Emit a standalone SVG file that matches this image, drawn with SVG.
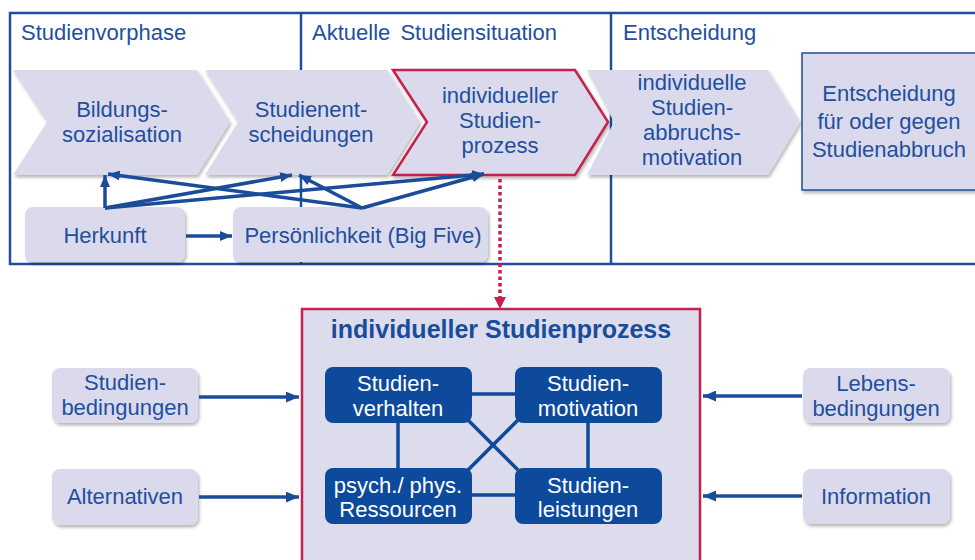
<svg xmlns="http://www.w3.org/2000/svg" width="975" height="560" viewBox="0 0 975 560">
  <defs>
    <style>
      text { font-family: "Liberation Sans", Arial, sans-serif; font-size: 22px; fill: #1f4f9f; }
      .mid { text-anchor: middle; }
      .light { fill: #dadaec; }
      .dark { fill: #0d4a9c; }
      .white { fill: #ffffff; }
      .frame { fill: none; stroke: #1f4f9c; stroke-width: 2.5; }
      .link { stroke: #1b4c9a; stroke-width: 3.5; fill: none; }
      .bond { stroke: #0d4a9c; stroke-width: 3.5; fill: none; }
      .feed { stroke: #1b4c9a; stroke-width: 3.5; fill: none; }
      .title { font-weight: bold; font-size: 25px; fill: #1a4c9c; }
    </style>
    <filter id="shadow" x="-10%" y="-10%" width="125%" height="130%">
      <feDropShadow dx="1.5" dy="2.5" stdDeviation="1.8" flood-color="#000" flood-opacity="0.28"/>
    </filter>
    <marker id="head" viewBox="0 0 12 10" refX="12" refY="5" markerWidth="12" markerHeight="10" markerUnits="userSpaceOnUse" orient="auto">
      <path d="M0,0 L12,5 L0,10 z" fill="#1b4c9a"/>
    </marker>
    <marker id="headBig" viewBox="0 0 12 10" refX="12" refY="5" markerWidth="13" markerHeight="11" markerUnits="userSpaceOnUse" orient="auto">
      <path d="M0,0 L12,5 L0,10 z" fill="#1b4c9a"/>
    </marker>
  </defs>

  <rect width="975" height="560" fill="#ffffff"/>

  <!-- phase frame and dividers -->
  <g id="phases">
    <rect class="frame" x="10" y="13" width="985" height="251"/>
    <line class="frame" x1="301" y1="13" x2="301" y2="264"/>
    <line class="frame" x1="611" y1="13" x2="611" y2="264"/>
    <text x="21" y="40">Studienvorphase</text>
    <text x="312" y="40" word-spacing="4">Aktuelle Studiensituation</text>
    <text x="623" y="40">Entscheidung</text>
  </g>

  <!-- process chevrons -->
  <g id="bildungssozialisation">
    <polygon class="light" filter="url(#shadow)" points="13,70 197,70 230,122 197,175 13,175 47,122"/>
    <text class="mid" x="122" y="117">Bildungs-</text>
    <text class="mid" x="122" y="142">sozialisation</text>
  </g>
  <g id="studienentscheidungen">
    <polygon class="light" filter="url(#shadow)" points="205,70 387,70 420,122 387,175 205,175 238,122"/>
    <text class="mid" x="311" y="117">Studienent-</text>
    <text class="mid" x="311" y="142">scheidungen</text>
  </g>
  <g id="studienprozess">
    <polygon class="light" filter="url(#shadow)" points="393,70 575,70 608,122 575,175 393,175 427,122" stroke="#c3224f" stroke-width="2.5"/>
    <text class="mid" x="500" y="103">individueller</text>
    <text class="mid" x="500" y="128">Studien-</text>
    <text class="mid" x="500" y="153">prozess</text>
  </g>
  <g id="abbruchsmotivation">
    <polygon class="light" filter="url(#shadow)" points="587,70 768,70 800,122 768,175 587,175 614,122"/>
    <text class="mid" x="692" y="90">individuelle</text>
    <text class="mid" x="692" y="115">Studien-</text>
    <text class="mid" x="692" y="140">abbruchs-</text>
    <text class="mid" x="692" y="165">motivation</text>
  </g>
  <g id="entscheidung">
    <rect class="light" filter="url(#shadow)" x="802" y="53" width="190" height="137" stroke="#1f4f9c" stroke-width="1.5"/>
    <text class="mid" x="889" y="101">Entscheidung</text>
    <text class="mid" x="889" y="129">für oder gegen</text>
    <text class="mid" x="889" y="157">Studienabbruch</text>
  </g>

  <!-- background factors -->
  <g id="herkunft">
    <rect class="light" filter="url(#shadow)" x="25" y="207" width="160" height="55" rx="8"/>
    <text class="mid" x="105" y="243">Herkunft</text>
  </g>
  <g id="persoenlichkeit">
    <rect class="light" filter="url(#shadow)" x="233" y="207" width="255" height="55" rx="8"/>
    <text class="mid" x="363" y="243">Persönlichkeit (Big Five)</text>
  </g>

  <!-- detail box -->
  <g id="prozess-detail">
    <rect x="302" y="309" width="398" height="270" fill="#dcdcec" stroke="#c3224f" stroke-width="2.5"/>
    <text class="mid title" x="501" y="338">individueller Studienprozess</text>
  </g>

  <g id="studienverhalten">
    <rect class="dark" x="325" y="367" width="147" height="56" rx="8"/>
    <text class="mid white" x="398" y="391">Studien-</text>
    <text class="mid white" x="398" y="416">verhalten</text>
  </g>
  <g id="studienmotivation">
    <rect class="dark" x="515" y="367" width="147" height="56" rx="8"/>
    <text class="mid white" x="588" y="391">Studien-</text>
    <text class="mid white" x="588" y="416">motivation</text>
  </g>
  <g id="ressourcen">
    <rect class="dark" x="325" y="468" width="147" height="56" rx="8"/>
    <text class="mid white" x="398" y="493">psych./ phys.</text>
    <text class="mid white" x="398" y="517">Ressourcen</text>
  </g>
  <g id="studienleistungen">
    <rect class="dark" x="515" y="468" width="147" height="56" rx="8"/>
    <text class="mid white" x="588" y="493">Studien-</text>
    <text class="mid white" x="588" y="517">leistungen</text>
  </g>

  <!-- external conditions -->
  <g id="studienbedingungen">
    <rect class="light" filter="url(#shadow)" x="52" y="368" width="146" height="55" rx="8"/>
    <text class="mid" x="125" y="390">Studien-</text>
    <text class="mid" x="125" y="415">bedingungen</text>
  </g>
  <g id="alternativen">
    <rect class="light" filter="url(#shadow)" x="52" y="469" width="146" height="56" rx="8"/>
    <text class="mid" x="125" y="504">Alternativen</text>
  </g>
  <g id="lebensbedingungen">
    <rect class="light" filter="url(#shadow)" x="803" y="368" width="147" height="55" rx="8"/>
    <text class="mid" x="876" y="391">Lebens-</text>
    <text class="mid" x="876" y="416">bedingungen</text>
  </g>
  <g id="information">
    <rect class="light" filter="url(#shadow)" x="803" y="469" width="147" height="55" rx="8"/>
    <text class="mid" x="876" y="504">Information</text>
  </g>

  <!-- connectors -->
  <g id="connectors">
    <line class="link" x1="105" y1="208" x2="105" y2="175" marker-end="url(#head)"/>
    <line class="link" x1="105" y1="208" x2="292" y2="175" marker-end="url(#head)"/>
    <line class="link" x1="105" y1="208" x2="484" y2="174" marker-end="url(#head)"/>
    <line class="link" x1="362" y1="208" x2="108" y2="174" marker-end="url(#head)"/>
    <line class="link" x1="362" y1="208" x2="299" y2="175" marker-end="url(#head)"/>
    <line class="link" x1="362" y1="208" x2="484" y2="174" marker-end="url(#head)"/>
    <line class="link" x1="186" y1="236" x2="232" y2="236" marker-end="url(#head)"/>

    <line x1="500" y1="179" x2="500" y2="298" stroke="#c3224f" stroke-width="3.5" stroke-dasharray="3.5 3"/>
    <polygon points="494,297 506,297 500,309" fill="#c3224f"/>

    <line class="bond" x1="472" y1="394" x2="515" y2="394"/>
    <line class="bond" x1="472" y1="495" x2="515" y2="495"/>
    <line class="bond" x1="398" y1="423" x2="398" y2="468"/>
    <line class="bond" x1="588" y1="423" x2="588" y2="468"/>
    <line class="bond" x1="468" y1="420" x2="518" y2="470"/>
    <line class="bond" x1="468" y1="470" x2="518" y2="420"/>

    <line class="feed" x1="199" y1="397" x2="299" y2="397" marker-end="url(#headBig)"/>
    <line class="feed" x1="199" y1="497" x2="299" y2="497" marker-end="url(#headBig)"/>
    <line class="feed" x1="802" y1="396" x2="703" y2="396" marker-end="url(#headBig)"/>
    <line class="feed" x1="802" y1="496" x2="703" y2="496" marker-end="url(#headBig)"/>
  </g>
</svg>
